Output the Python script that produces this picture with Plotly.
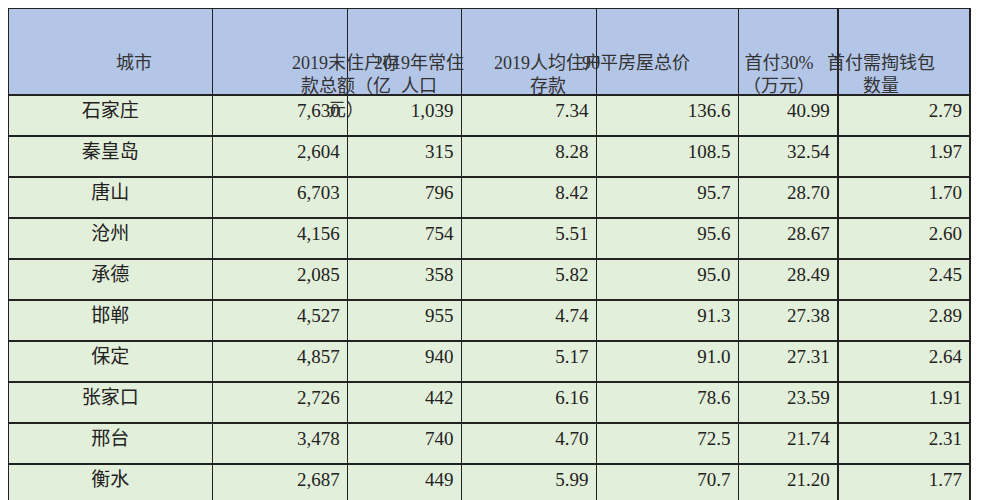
import plotly.graph_objects as go

headers = ["城市", "2019末住户存<br>款总额（亿<br>元）", "2019年常住<br>人口", "2019人均住户<br>存款",
           "90平房屋总价", "首付30%<br>（万元）", "首付需掏钱包<br>数量"]
cities = ["石家庄", "秦皇岛", "唐山", "沧州", "承德", "邯郸", "保定", "张家口", "邢台", "衡水"]
deposits = ["7,630", "2,604", "6,703", "4,156", "2,085", "4,527", "4,857", "2,726", "3,478", "2,687"]
population = ["1,039", "315", "796", "754", "358", "955", "940", "442", "740", "449"]
per_capita = ["7.34", "8.28", "8.42", "5.51", "5.82", "4.74", "5.17", "6.16", "4.70", "5.99"]
house_price = ["136.6", "108.5", "95.7", "95.6", "95.0", "91.3", "91.0", "78.6", "72.5", "70.7"]
down_payment = ["40.99", "32.54", "28.70", "28.67", "28.49", "27.38", "27.31", "23.59", "21.74", "21.20"]
wallets = ["2.79", "1.97", "1.70", "2.60", "2.45", "2.89", "2.64", "1.91", "2.31", "1.77"]

widths = [212, 140, 118, 140, 147, 103, 137]
font = "Liberation Serif, Noto Sans CJK SC"
xr = 0.962
fig = go.Figure(go.Table(
    columnwidth=widths,
    header=dict(values=[""] * 7, fill_color="#B4C6E7", line=dict(color="#222", width=1.5),
                height=87, font=dict(family=font, size=18)),
    cells=dict(values=[cities, deposits, population, per_capita, house_price, down_payment, wallets],
               fill_color="#E2EFDA", line=dict(color="#222", width=1.5),
               align=["center"] + ["right"] * 6, height=41,
               font=dict(family=font, size=19, color="#222")),
    domain=dict(x=[0, xr], y=[0, 1]),
))
total = sum(widths)
acc = 0
for w, h in zip(widths, headers):
    cx = (acc + w / 2) / total * 997 / 1000
    acc += w
    fig.add_annotation(x=cx, y=1 - 43.5 / 500, xref="paper", yref="paper", text=h, showarrow=False,
                       align="center", font=dict(family=font, size=18, color="#333"))
fig.update_layout(width=1000, height=500, margin=dict(l=0, r=0, t=0, b=0), paper_bgcolor="white")
fig.write_html("out.html")
